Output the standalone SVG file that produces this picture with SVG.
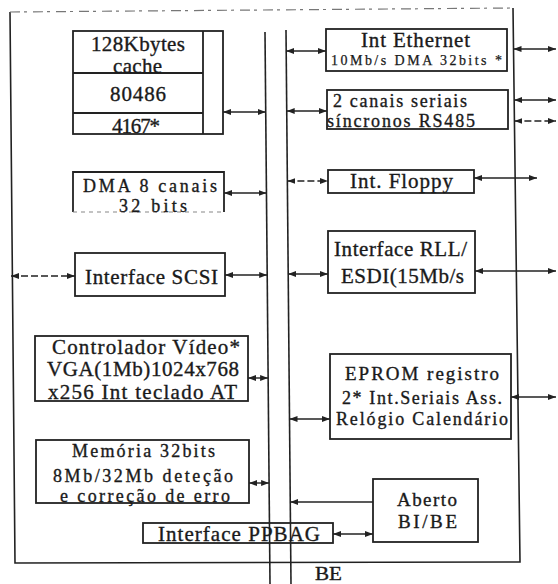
<svg xmlns="http://www.w3.org/2000/svg" width="558" height="584" viewBox="0 0 558 584">
<style>
.b{fill:none;stroke:#222;stroke-width:1.8}
.l{fill:none;stroke:#222;stroke-width:1.6}
.c{fill:none;stroke:#222;stroke-width:1.4;marker-end:url(#ah);marker-start:url(#ah)}
.u{fill:none;stroke:#222;stroke-width:1.4;marker-end:url(#ah)}
.d{stroke-dasharray:7 3}
text{font-family:"Liberation Serif","Times New Roman",serif;font-size:21px;fill:#1a1a1a;stroke:#1a1a1a;stroke-width:0.35;text-anchor:middle}
.t{font-size:18px}
.m{font-size:19px}
.s{font-size:14px;stroke-width:0.25}
</style>
<defs>
<marker id="ah" viewBox="0 0 8 6" refX="8" refY="3" markerWidth="8" markerHeight="6" markerUnits="userSpaceOnUse" orient="auto-start-reverse"><path d="M0,0 L8,3 L0,6 z" fill="#222"/></marker>
</defs>
<g id="frame">
<path class="l" d="M10,12 L15,563 L520,562 L513,8"/>
<path d="M10,12 L513,8" fill="none" stroke="#777" stroke-width="1.2" stroke-dasharray="10 4 3 6"/>
</g>
<g id="buses">
<path class="l" d="M265,32 L270,584"/>
<path class="l" d="M286,30 L291,584"/>
<text x="328.5" y="580" textLength="27" lengthAdjust="spacingAndGlyphs" style="font-size:19px">BE</text>
</g>
<g id="connectors">
<path class="c" d="M223,112 L265.7,112"/>
<path class="c" d="M224,193 L266.5,193"/>
<path class="c d" d="M11,276 L75,276"/>
<path class="c" d="M225,275 L267.2,275"/>
<path class="c" d="M248,378 L268.1,378"/>
<path class="c" d="M249,483 L269.1,483"/>
<path class="c" d="M286.2,51 L326,51"/>
<path class="c" d="M513.5,49 L556,49"/>
<path class="c" d="M286.7,111 L327,111"/>
<path class="c" d="M514.2,100 L556,100"/>
<path class="c d" d="M514.4,121 L556,121"/>
<path class="c d" d="M287.4,181 L328,181"/>
<path class="c" d="M474,178 L537,178"/>
<path class="c" d="M288.2,274 L328,274"/>
<path class="c" d="M475,271 L556,271"/>
<path class="c" d="M289.5,419 L330,419"/>
<path class="c" d="M511,397 L556,397"/>
<path class="u" d="M373,502 L290.3,502"/>
<path class="c" d="M333,534 L373,534"/>
</g>
<g id="cpu">
<rect class="b" x="73" y="31" width="150" height="103"/>
<path class="b" d="M203,31 L203,134 M73,73 L203,73 M73,113 L203,113"/>
<text x="138" y="51" textLength="94">128Kbytes</text>
<text x="137.5" y="73" textLength="49">cache</text>
<text x="138" y="101" textLength="56">80486</text>
<text x="136" y="133" textLength="48">4167*</text>
</g>
<g id="dma">
<path class="b" d="M73,212 L73,172 L224,172 L224,212"/>
<path d="M73,212 L224,212" fill="none" stroke="#888" stroke-width="1.2" stroke-dasharray="4 4"/>
<text class="t" x="150" y="192" textLength="134">DMA 8 canais</text>
<text class="t" x="153" y="212" textLength="68">32 bits</text>
</g>
<g id="scsi">
<rect class="b" x="75" y="253" width="150" height="43"/>
<text x="151.5" y="284" textLength="133">Interface SCSI</text>
</g>
<g id="video">
<rect class="b" x="35" y="336" width="213" height="65"/>
<text x="146" y="354" textLength="188">Controlador Vídeo*</text>
<text x="143" y="376" textLength="192">VGA(1Mb)1024x768</text>
<text x="142.5" y="399" textLength="189">x256 Int teclado AT</text>
</g>
<g id="memoria">
<rect class="b" x="36" y="440" width="213" height="63"/>
<text class="t" x="143.5" y="457" textLength="143">Memória 32bits</text>
<text class="t" x="143" y="482" textLength="180">8Mb/32Mb deteção</text>
<text class="t" x="145" y="502" textLength="170">e correção de erro</text>
</g>
<g id="ppbag">
<rect class="b" x="143" y="523" width="190" height="20"/>
<text x="239" y="541" textLength="162">Interface PPBAG</text>
</g>
<g id="ethernet">
<rect class="b" x="326" y="29" width="181" height="42"/>
<text x="415.5" y="47" textLength="109">Int Ethernet</text>
<text class="s" x="416.5" y="65" textLength="171">10Mb/s DMA 32bits *</text>
</g>
<g id="seriais">
<rect class="b" x="327" y="90" width="181" height="39"/>
<text class="t" x="400" y="107" textLength="134">2 canais seriais</text>
<text class="t" x="401" y="127" textLength="148">síncronos RS485</text>
</g>
<g id="floppy">
<rect class="b" x="328" y="170" width="146" height="23"/>
<text x="401.5" y="188" textLength="103">Int. Floppy</text>
</g>
<g id="rll">
<rect class="b" x="328" y="231" width="147" height="62"/>
<text x="400.5" y="256" textLength="133">Interface RLL/</text>
<text x="402.5" y="283" textLength="123">ESDI(15Mb/s</text>
</g>
<g id="eprom">
<rect class="b" x="330" y="354" width="181" height="85"/>
<text class="m" x="422" y="380" textLength="154">EPROM registro</text>
<text class="t" x="422" y="404" textLength="160">2* Int.Seriais Ass.</text>
<text class="t" x="422" y="425" textLength="172">Relógio Calendário</text>
</g>
<g id="aberto">
<rect class="b" x="373" y="479" width="105" height="63"/>
<text class="m" x="427" y="506" textLength="60">Aberto</text>
<text class="m" x="427.5" y="528" textLength="59">BI/BE</text>
</g>
</svg>
